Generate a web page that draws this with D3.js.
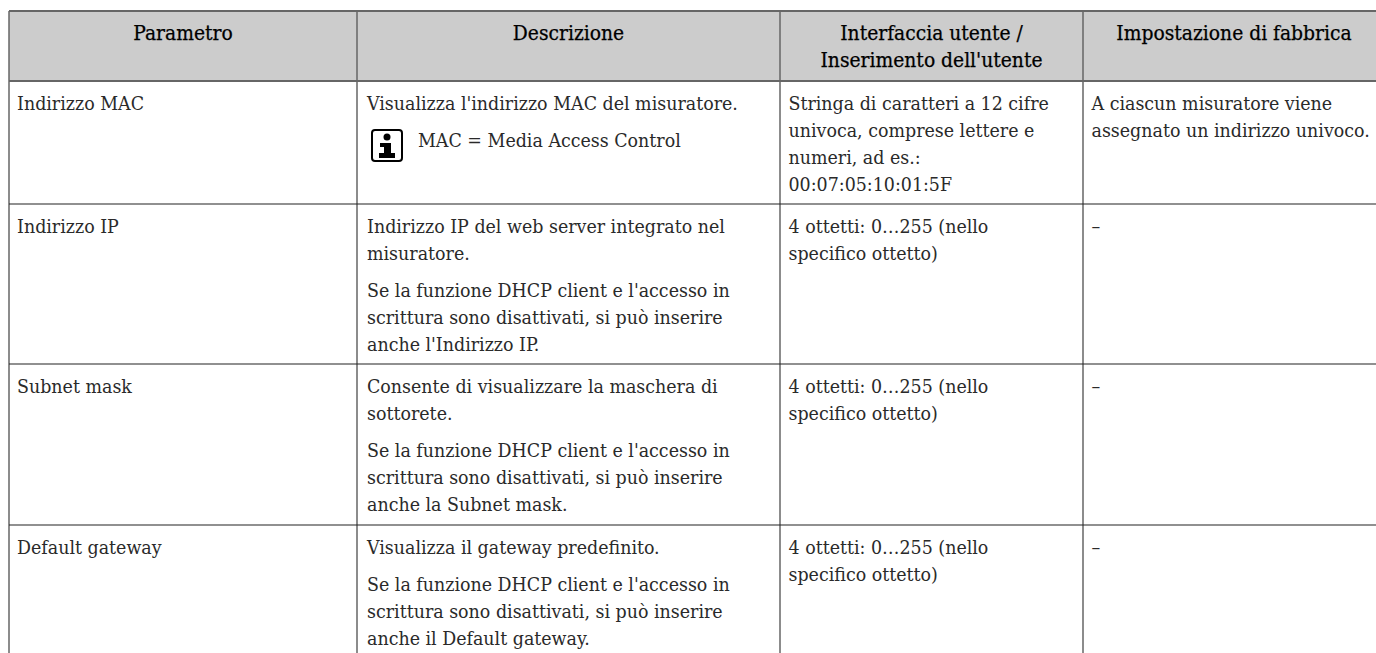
<!DOCTYPE html>
<html>
<head>
<meta charset="utf-8">
<script src="https://cdn.jsdelivr.net/npm/d3@7"></script>
<style>
html,body{margin:0;padding:0;background:#fff;overflow:hidden}
svg{display:block}
text{font-family:"DejaVu Serif Condensed","DejaVu Serif",serif;font-size:19.4px;fill:#2a2a2a}
.head{fill:#000;font-size:20.8px;stroke:#000;stroke-width:.25px}
</style>
</head>
<body>
<svg></svg>
<script>
var headers=[["Parametro"],["Descrizione"],["Interfaccia utente /","Inserimento dell'utente"],["Impostazione di fabbrica"]];
var parametri=["Indirizzo MAC","Indirizzo IP","Subnet mask","Default gateway"];
// each cell is a list of paragraphs, each paragraph a list of lines
var descrizioni=[
  [["Visualizza l'indirizzo MAC del misuratore."],["MAC = Media Access Control"]],
  [["Indirizzo IP del web server integrato nel","misuratore."],["Se la funzione DHCP client e l'accesso in","scrittura sono disattivati, si può inserire","anche l'Indirizzo IP."]],
  [["Consente di visualizzare la maschera di","sottorete."],["Se la funzione DHCP client e l'accesso in","scrittura sono disattivati, si può inserire","anche la Subnet mask."]],
  [["Visualizza il gateway predefinito."],["Se la funzione DHCP client e l'accesso in","scrittura sono disattivati, si può inserire","anche il Default gateway."]]
];
var interfaccia=[
  ["Stringa di caratteri a 12 cifre","univoca, comprese lettere e","numeri, ad es.:","00:07:05:10:01:5F"],
  ["4 ottetti: 0…255 (nello","specifico ottetto)"],
  ["4 ottetti: 0…255 (nello","specifico ottetto)"],
  ["4 ottetti: 0…255 (nello","specifico ottetto)"]
];
var impostazioni=[
  ["A ciascun misuratore viene","assegnato un indirizzo univoco."],
  ["–"],["–"],["–"]
];

var width=1376,height=653;
var colEdges=[9,357,780,1083,1385];   // last column runs off the page
var rowEdges=[11,81,204,364,525,653];
var lineH=27.1,paraGap=10.4;

var svg=d3.select("svg").attr("width",width).attr("height",height);

svg.append("rect").attr("x",colEdges[0]).attr("y",rowEdges[0])
  .attr("width",width-colEdges[0]).attr("height",rowEdges[1]-rowEdges[0]).attr("fill","#ccc");

// header text, centred in each column
headers.forEach(function(h,c){
  var cx=(colEdges[c]+colEdges[c+1])/2;
  svg.append("g").selectAll("text").data(h).enter().append("text")
    .attr("class","head")
    .attr("x",cx).attr("y",(d,i)=>rowEdges[0]+28.5+i*lineH)
    .attr("text-anchor","middle")
    .text(d=>d);
});

function lines(x,y,list){
  svg.append("g").selectAll("text").data(list).enter().append("text")
    .attr("x",x).attr("y",(d,i)=>y+i*lineH).text(d=>d);
}

parametri.forEach(function(p,r){
  var top=rowEdges[r+1]+28.5;
  lines(colEdges[0]+8,top,[p]);
  var y=top;
  descrizioni[r].forEach(function(par,k){
    var x=colEdges[1]+10;
    if(r===0&&k===1){
      x=colEdges[1]+61;
      drawIcon(colEdges[1]+14,y-18);
    }
    lines(x,y,par);
    y+=par.length*lineH+paraGap;
  });
  lines(colEdges[2]+8.5,top,interfaccia[r]);
  lines(colEdges[3]+8.5,top,impostazioni[r]);
});

function drawIcon(x,y){
  var g=svg.append("g").attr("transform","translate("+x+","+y+")");
  g.append("rect").attr("x",1).attr("y",1).attr("width",30).attr("height",31).attr("rx",3)
    .attr("fill","none").attr("stroke","#000").attr("stroke-width",2);
  g.append("circle").attr("cx",16).attr("cy",8).attr("r",3.5).attr("fill","#000");
  g.append("path").attr("d","M9 14H20V24H24V29H8V24H13V18H9Z").attr("fill","#000");
}

// grid lines
svg.append("g").selectAll("line").data(colEdges.slice(0,4)).enter().append("line")
  .attr("x1",d=>d).attr("x2",d=>d).attr("y1",rowEdges[0]).attr("y2",height)
  .attr("stroke","#666").attr("stroke-width",1.5);
svg.append("g").selectAll("line").data(rowEdges.slice(0,5)).enter().append("line")
  .attr("x1",colEdges[0]).attr("x2",width).attr("y1",d=>d).attr("y2",d=>d)
  .attr("stroke",(d,i)=>i<2?"#666":"#222").attr("stroke-width",(d,i)=>i<2?2:1.2);
</script>
</body>
</html>
